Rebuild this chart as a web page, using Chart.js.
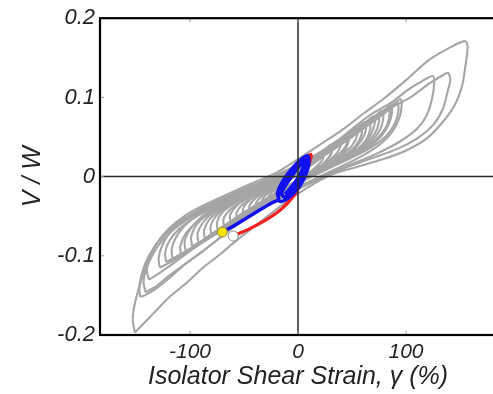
<!DOCTYPE html>
<html>
<head>
<meta charset="utf-8">
<script src="https://cdn.jsdelivr.net/npm/chart.js@4.4.1/dist/chart.umd.min.js"></script>
<style>
  html, body { margin: 0; padding: 0; background: #fff; overflow: hidden; }
  #wrap { width: 493px; height: 394px; overflow: hidden; }
</style>
</head>
<body>
<div id="wrap"><canvas id="hyst" width="520" height="394"></canvas></div>
<script>
// axis ticks
const xTickValues = [-100, 0, 100];
const xTickLabels = ['-100', '0', '100'];
const yTickValues = [-0.2, -0.1, 0, 0.1, 0.2];
const yTickLabels = ['-0.2', '-0.1', '0', '0.1', '0.2'];

// gray hysteresis cycles, [strain %, V/W]
const loop1 = [[-151,-0.197],[-153,-0.18],[-151,-0.16],[-146,-0.135],[-140,-0.11],[-131,-0.085],[-119,-0.065],[-103,-0.048],[-84,-0.034],[-63,-0.021],[-42,-0.008],[-20,0.005],[0,0.022],[20,0.04],[42,0.06],[60,0.079],[79,0.098],[101,0.123],[122,0.148],[145,0.166],[155,0.171],
  [157,0.163],[155,0.14],[152,0.115],[145,0.09],[134,0.069],[119,0.048],[97,0.031],[76,0.021],[55,0.0125],[30,0.002],[10,-0.013],[-10,-0.031],[-30,-0.052],[-45,-0.068],[-60,-0.084],[-72,-0.098],[-88,-0.115],[-103,-0.134],[-119,-0.152],[-134,-0.173],[-146,-0.19],[-151,-0.197]];
const loop2 = [[-146,-0.152],[-147,-0.14],[-144,-0.12],[-138,-0.1],[-128,-0.08],[-115,-0.062],[-98,-0.047],[-80,-0.034],[-60,-0.022],[-40,-0.01],[-20,0.002],[0,0.015],[20,0.03],[45,0.05],[70,0.07],[88,0.088],[104,0.1],[122,0.118],[134,0.128],[139,0.131],
  [141,0.122],[139,0.11],[134,0.085],[125,0.065],[110,0.048],[92,0.035],[67,0.0225],[42,0.01],[20,-0.003],[0,-0.016],[-20,-0.03],[-40,-0.046],[-60,-0.064],[-75,-0.08],[-90,-0.096],[-104,-0.11],[-119,-0.128],[-132,-0.142],[-142,-0.15],[-146,-0.152]];
const loop3 = [[-141,-0.146],[-143,-0.133],[-140,-0.115],[-134,-0.097],[-124,-0.078],[-110,-0.061],[-92,-0.046],[-72,-0.032],[-50,-0.018],[-28,-0.005],[0,0.012],[25,0.032],[48,0.058],[67,0.078],[87,0.094],[101,0.109],[113,0.119],[125,0.127],
  [126,0.117],[124,0.098],[119,0.077],[110,0.06],[94,0.044],[73,0.029],[50,0.016],[25,0.002],[0,-0.013],[-25,-0.032],[-50,-0.052],[-70,-0.075],[-88,-0.094],[-104,-0.11],[-120,-0.126],[-133,-0.14],[-141,-0.146]];
const loop4 = [[-128,-0.115],[-129,-0.103],[-126,-0.088],[-119,-0.072],[-106,-0.057],[-88,-0.041],[-66,-0.026],[-40,-0.01],[-15,0.005],[10,0.022],[35,0.044],[60,0.066],[80,0.084],[92,0.095],[95,0.098],
  [96,0.09],[94,0.075],[88,0.058],[78,0.043],[62,0.028],[42,0.014],[20,0.0],[0,-0.014],[-25,-0.033],[-50,-0.052],[-75,-0.072],[-100,-0.093],[-118,-0.108],[-128,-0.115]];
const loop5 = [[-116,-0.104],[-117,-0.092],[-113,-0.077],[-105,-0.062],[-92,-0.048],[-74,-0.035],[-52,-0.021],[-28,-0.006],[-5,0.009],[18,0.027],[42,0.05],[65,0.07],[80,0.084],[86,0.09],
  [87,0.081],[84,0.066],[77,0.051],[65,0.037],[48,0.024],[28,0.011],[5,-0.004],[-20,-0.024],[-45,-0.043],[-70,-0.064],[-92,-0.084],[-108,-0.098],[-116,-0.104]];
const loop6 = [[-104,-0.094],[-105,-0.082],[-100,-0.067],[-91,-0.053],[-77,-0.04],[-58,-0.027],[-36,-0.013],[-12,0.002],[12,0.019],[36,0.042],[58,0.062],[72,0.077],[78,0.083],
  [79,0.074],[76,0.059],[68,0.045],[55,0.032],[36,0.018],[14,0.003],[-10,-0.015],[-35,-0.034],[-60,-0.055],[-82,-0.076],[-97,-0.089],[-104,-0.094]];
const loop7 = [[-92,-0.084],[-93,-0.072],[-88,-0.058],[-78,-0.045],[-63,-0.033],[-44,-0.02],[-22,-0.006],[2,0.01],[26,0.03],[50,0.054],[64,0.07],[70,0.076],
  [71,0.067],[67,0.052],[58,0.038],[43,0.025],[22,0.01],[0,-0.006],[-25,-0.025],[-50,-0.045],[-72,-0.066],[-86,-0.079],[-92,-0.084]];
const loop8 = [[-80,-0.075],[-81,-0.063],[-76,-0.05],[-66,-0.038],[-50,-0.026],[-30,-0.013],[-8,0.002],[16,0.021],[40,0.045],[56,0.063],[62,0.069],
  [63,0.06],[59,0.046],[49,0.032],[32,0.018],[10,0.002],[-15,-0.017],[-40,-0.037],[-62,-0.057],[-75,-0.07],[-80,-0.075]];
const loop9 = [[-68,-0.066],[-69,-0.054],[-63,-0.042],[-52,-0.031],[-36,-0.019],[-16,-0.005],[6,0.012],[30,0.036],[48,0.056],[54,0.062],
  [55,0.053],[50,0.039],[39,0.026],[20,0.011],[-2,-0.006],[-28,-0.027],[-50,-0.047],[-63,-0.061],[-68,-0.066]];
const loop10 = [[-56,-0.057],[-57,-0.046],[-51,-0.035],[-39,-0.024],[-22,-0.011],[-2,0.004],[20,0.026],[40,0.048],[46,0.054],
  [47,0.045],[41,0.032],[28,0.019],[8,0.003],[-16,-0.017],[-38,-0.037],[-51,-0.052],[-56,-0.057]];
const loop11 = [[-44,-0.048],[-45,-0.037],[-38,-0.026],[-25,-0.015],[-8,-0.001],[12,0.018],[32,0.04],[38,0.046],
  [39,0.037],[32,0.024],[18,0.01],[-3,-0.008],[-26,-0.028],[-39,-0.043],[-44,-0.048]];
const loop12 = [[-32,-0.04],[-33,-0.029],[-25,-0.018],[-11,-0.006],[6,0.01],[24,0.031],[30,0.038],
  [31,0.029],[23,0.016],[8,0.002],[-12,-0.017],[-27,-0.034],[-32,-0.04]];
const loop13 = [[-20,-0.031],[-21,-0.02],[-12,-0.009],[2,0.005],[17,0.024],[22,0.031],
  [23,0.022],[14,0.009],[-1,-0.006],[-15,-0.024],[-20,-0.031]];
const loop14 = [[-138,-0.13],[-140,-0.118],[-137,-0.1],[-130,-0.083],[-118,-0.067],[-101,-0.052],[-80,-0.037],[-56,-0.022],[-30,-0.007],[-5,0.008],[20,0.027],[45,0.05],[68,0.07],[80,0.083],[84,0.088],
  [85,0.079],[82,0.064],[74,0.049],[61,0.035],[42,0.021],[20,0.006],[-5,-0.012],[-30,-0.031],[-55,-0.051],[-80,-0.074],[-102,-0.096],[-122,-0.116],[-134,-0.127],[-138,-0.13]];
const loop15 = [[-122,-0.108],[-123,-0.096],[-119,-0.081],[-110,-0.066],[-96,-0.052],[-77,-0.038],[-55,-0.024],[-30,-0.008],[-6,0.007],[18,0.026],[40,0.046],[54,0.058],[58,0.062],
  [59,0.053],[55,0.039],[45,0.026],[28,0.013],[6,-0.003],[-20,-0.023],[-48,-0.045],[-75,-0.068],[-98,-0.09],[-114,-0.102],[-122,-0.108]];
const loop16 = [[-98,-0.088],[-99,-0.076],[-94,-0.061],[-84,-0.048],[-69,-0.036],[-49,-0.023],[-26,-0.009],[-2,0.007],[22,0.025],[46,0.047],[68,0.068],[84,0.085],[92,0.093],
  [93,0.084],[90,0.068],[82,0.052],[69,0.038],[50,0.024],[28,0.01],[4,-0.006],[-22,-0.026],[-48,-0.046],[-72,-0.066],[-90,-0.082],[-98,-0.088]];
const loop17 = [[-86,-0.08],[-87,-0.068],[-82,-0.054],[-72,-0.042],[-56,-0.03],[-36,-0.016],[-14,-0.001],[10,0.017],[32,0.037],[42,0.047],[45,0.05],
  [46,0.041],[41,0.028],[28,0.015],[8,0.0],[-16,-0.019],[-42,-0.04],[-66,-0.062],[-80,-0.075],[-86,-0.08]];
const loop18 = [[-74,-0.07],[-75,-0.058],[-70,-0.045],[-59,-0.034],[-42,-0.022],[-21,-0.008],[2,0.008],[26,0.028],[50,0.05],[70,0.071],[80,0.082],[84,0.087],
  [85,0.078],[82,0.062],[73,0.047],[59,0.033],[40,0.019],[18,0.005],[-6,-0.012],[-32,-0.032],[-56,-0.053],[-69,-0.065],[-74,-0.07]];
const loop19 = [[-62,-0.06],[-63,-0.049],[-57,-0.037],[-45,-0.026],[-28,-0.013],[-7,0.002],[16,0.02],[40,0.043],[58,0.062],[66,0.07],
  [67,0.061],[63,0.046],[53,0.032],[36,0.018],[14,0.003],[-10,-0.015],[-36,-0.036],[-55,-0.054],[-62,-0.06]];
const loop20 = [[-50,-0.052],[-51,-0.041],[-44,-0.029],[-31,-0.018],[-13,-0.004],[8,0.013],[32,0.035],[54,0.057],[68,0.072],[74,0.078],
  [75,0.069],[71,0.054],[61,0.04],[45,0.026],[24,0.011],[0,-0.006],[-24,-0.026],[-42,-0.044],[-50,-0.052]];
const loop21 = [[-38,-0.045],[-39,-0.034],[-32,-0.023],[-18,-0.011],[0,0.003],[20,0.022],[42,0.046],[54,0.059],[58,0.063],
  [59,0.054],[54,0.04],[42,0.026],[22,0.011],[0,-0.006],[-20,-0.024],[-33,-0.039],[-38,-0.045]];
const loop22 = [[-26,-0.036],[-27,-0.025],[-19,-0.014],[-4,0.0],[14,0.017],[32,0.036],[41,0.047],[44,0.05],
  [45,0.041],[38,0.028],[24,0.014],[4,-0.002],[-14,-0.02],[-22,-0.031],[-26,-0.036]];
const loop23 = [[-108,-0.1],[-109,-0.088],[-104,-0.072],[-94,-0.058],[-78,-0.044],[-58,-0.03],[-36,-0.015],[-14,0.0],[8,0.016],[24,0.032],[30,0.04],
  [31,0.031],[24,0.017],[8,0.001],[-14,-0.019],[-40,-0.04],[-66,-0.062],[-90,-0.084],[-102,-0.095],[-108,-0.1]];
const grayLoops = [loop1, loop2, loop3, loop14, loop4, loop15, loop5, loop16, loop6, loop23, loop17, loop7,
    loop18, loop8, loop19, loop9, loop20, loop10, loop21, loop11, loop22, loop12, loop13];

// red and blue response traces
const redPath = [[-60,-0.075],[-45,-0.066],[-30,-0.055],[-19,-0.045],[-10,-0.034],[-4,-0.024],[1,-0.012],[6,0.002],[10,0.015],[12,0.024],[12,0.028],[10,0.026],[8,0.014],[4,-0.004],[-1,-0.018],[-6,-0.028],[-12,-0.036]];
const bluePath = [[-70,-0.07],[-58,-0.061],[-46,-0.051],[-34,-0.041],[-24,-0.033],[-18,-0.029],[-19,-0.021],[-15,-0.008],[-8,0.006],[-1,0.017],[5,0.024],[9,0.026],[10,0.016],[7,0.002],[2,-0.011],[-4,-0.021],[-11,-0.029],[-17,-0.031],
  [-18,-0.024],[-13,-0.011],[-6,0.003],[1,0.015],[6,0.022],[8,0.019],[5,0.006],[0,-0.007],[-6,-0.018],[-13,-0.026],
  [-15,-0.02],[-10,-0.008],[-3,0.006],[3,0.016],[6,0.018],[3,0.006],[-2,-0.006],[-8,-0.016],[-12,-0.022]];

// start markers
const yellowDot = [-70, -0.07];
const whiteDot = [-60, -0.075];

const toXY = arr => arr.map(p => ({ x: p[0], y: p[1] }));

let datasets = [];
datasets.push({
    data: toXY([yellowDot]), pointRadius: 5, pointBackgroundColor: '#f5e000',
    pointBorderColor: '#8a8a40', pointBorderWidth: 1, showLine: false, order: 0
});
datasets.push({
    data: toXY([whiteDot]), pointRadius: 5, pointBackgroundColor: '#ffffff',
    pointBorderColor: '#909090', pointBorderWidth: 1, showLine: false, order: 0
});
datasets.push({
    data: toXY(bluePath), showLine: true, borderColor: '#1010f0', borderWidth: 3.5,
    pointRadius: 0, tension: 0.3, order: 1
});
datasets.push({
    data: toXY(redPath), showLine: true, borderColor: '#f52020', borderWidth: 3.2,
    pointRadius: 0, tension: 0.3, order: 2
});
grayLoops.forEach((loop) => {
    datasets.push({
        data: toXY(loop), showLine: true, borderColor: '#a5a5a5', borderWidth: 2.1,
        pointRadius: 0, tension: 0.3, order: 3
    });
});

// frame, zero lines and small inward ticks
const framePlugin = {
    id: 'frame',
    afterDatasetsDraw(chart) {
        const { ctx, chartArea, scales } = chart;
        const { left, top, right, bottom } = chartArea;
        ctx.save();
        ctx.strokeStyle = '#2a2a2a';
        ctx.lineWidth = 1.5;
        const x0 = scales.x.getPixelForValue(0), y0 = scales.y.getPixelForValue(0);
        ctx.beginPath();
        ctx.moveTo(x0, top); ctx.lineTo(x0, bottom);
        ctx.moveTo(left, y0); ctx.lineTo(right, y0);
        ctx.stroke();

        ctx.strokeStyle = '#999';
        ctx.lineWidth = 1;
        ctx.beginPath();
        xTickValues.forEach(v => {
            const px = scales.x.getPixelForValue(v);
            ctx.moveTo(px, bottom); ctx.lineTo(px, bottom - 4);
            ctx.moveTo(px, top); ctx.lineTo(px, top + 4);
        });
        yTickValues.forEach(v => {
            const py = scales.y.getPixelForValue(v);
            ctx.moveTo(left, py); ctx.lineTo(left + 4, py);
        });
        ctx.stroke();

        ctx.strokeStyle = '#000';
        ctx.lineWidth = 2.2;
        ctx.strokeRect(left, top, right - left, bottom - top);
        ctx.restore();
    }
};

Chart.defaults.font.family = "'Liberation Sans', Arial, sans-serif";
Chart.defaults.color = '#222';

const chart = new Chart(document.getElementById('hyst'), {
    type: 'scatter',
    data: { datasets: datasets },
    options: {
        responsive: false,
        animation: false,
        devicePixelRatio: 1,
        layout: { padding: { top: 15, right: 24, left: 0, bottom: 0 } },
        plugins: { legend: { display: false }, tooltip: { enabled: false } },
        scales: {
            x: {
                type: 'linear', min: -183.3, max: 183.3,
                afterBuildTicks: s => { s.ticks = xTickValues.map(v => ({ value: v })); },
                afterFit: s => { s.height = 59; },
                ticks: { callback: (v, i) => xTickLabels[i], font: { size: 21, style: 'italic' }, padding: 5, maxRotation: 0 },
                grid: { display: false, drawTicks: false },
                border: { display: false },
                title: { display: true, text: 'Isolator Shear Strain, γ (%)', font: { size: 25, style: 'italic' }, padding: { top: 0, bottom: 2 } }
            },
            y: {
                type: 'linear', min: -0.2, max: 0.2,
                afterBuildTicks: s => { s.ticks = yTickValues.map(v => ({ value: v })); },
                afterFit: s => { s.width = 100; },
                ticks: { callback: (v, i) => yTickLabels[i], font: { size: 22, style: 'italic' }, padding: 5 },
                grid: { display: false, drawTicks: false },
                border: { display: false },
                title: { display: true, text: 'V / W', font: { size: 25, style: 'italic' }, padding: { top: 18, bottom: 0 } }
            }
        }
    },
    plugins: [framePlugin]
});
</script>
</body>
</html>
